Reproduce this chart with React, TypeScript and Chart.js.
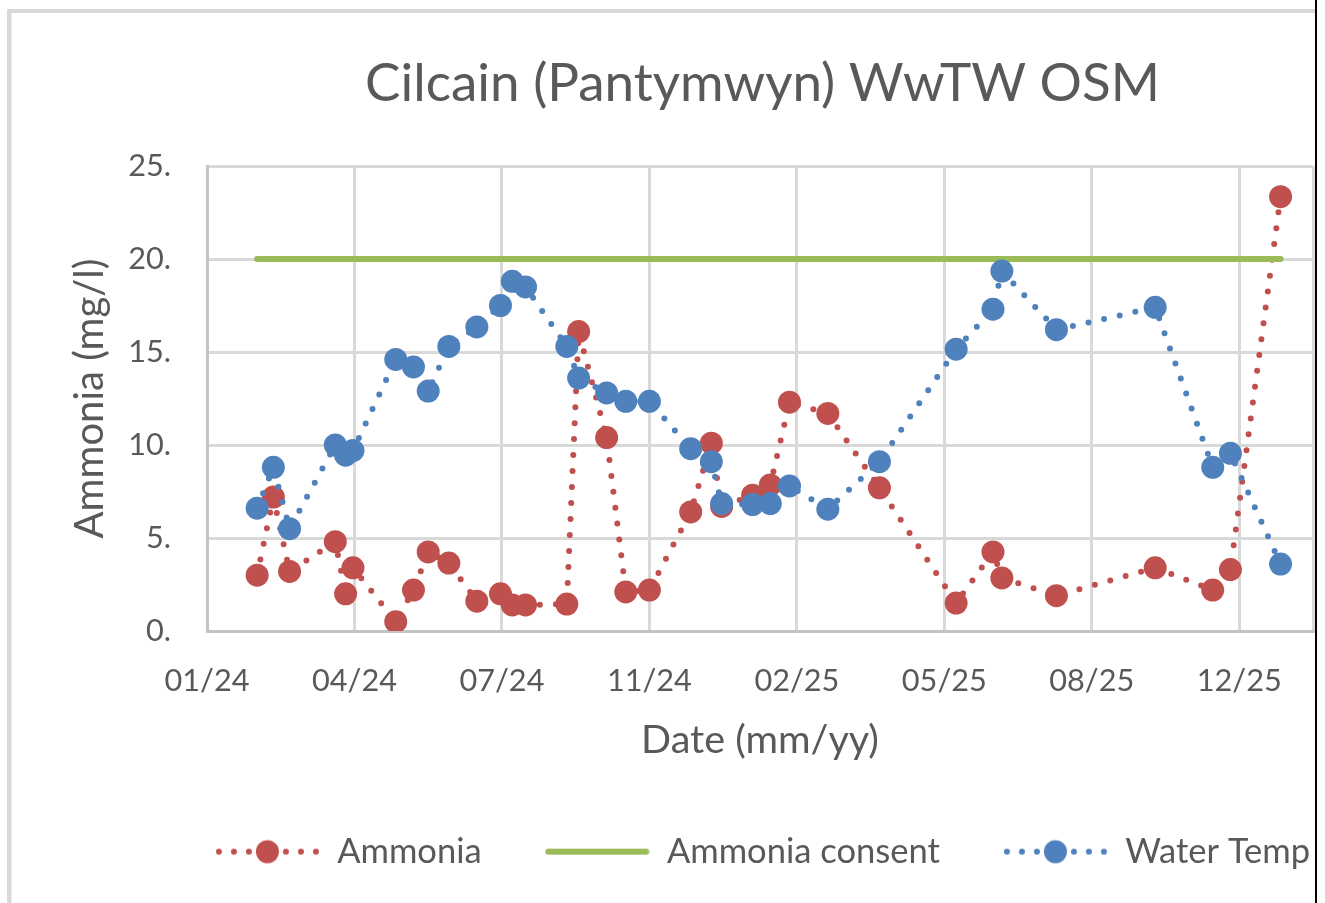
import React, { useEffect, useRef } from 'react';
import { Chart, registerables } from 'chart.js';

Chart.register(...registerables);

// ---------- data ----------
const TITLE = 'Cilcain (Pantymwyn) WwTW OSM';
const X_TITLE = 'Date (mm/yy)';
const Y_TITLE = 'Ammonia (mg/l)';
const SERIES_LABELS = ['Ammonia', 'Ammonia consent', 'Water Temp'];

const AXIS_START_DATE = '2024-01-07';
const X_TICK_LABELS = ['01/24', '04/24', '07/24', '11/24', '02/25', '05/25', '08/25', '12/25'];
const Y_TICK_LABELS = ['0.', '5.', '10.', '15.', '20.', '25.'];

const SAMPLE_DATES = [
  '2024-02-10', '2024-02-21', '2024-03-03', '2024-04-03', '2024-04-10', '2024-04-15',
  '2024-05-14', '2024-05-26', '2024-06-05', '2024-06-19', '2024-07-08', '2024-07-24',
  '2024-08-01', '2024-08-10', '2024-09-07', '2024-09-15', '2024-10-04', '2024-10-17',
  '2024-11-02', '2024-11-30', '2024-12-14', '2024-12-21', '2025-01-11', '2025-01-23',
  '2025-02-05', '2025-03-03', '2025-04-07', '2025-05-29', '2025-06-23', '2025-06-29',
  '2025-08-05', '2025-10-11', '2025-11-19', '2025-12-01', '2026-01-04',
];

const AMMONIA = [
  3.0, 7.2, 3.2, 4.8, 2.0, 3.4,
  0.5, 2.2, 4.25, 3.65, 1.6, 2.0,
  1.4, 1.4, 1.45, 16.1, 10.4, 2.1,
  2.2, 6.4, 10.1, 6.7, 7.3, 7.85,
  12.3, 11.7, 7.7, 1.5, 4.25, 2.85,
  1.9, 3.4, 2.2, 3.3, 23.35,
];

const AMMONIA_CONSENT = [
  20, 20, 20, 20, 20, 20,
  20, 20, 20, 20, 20, 20,
  20, 20, 20, 20, 20, 20,
  20, 20, 20, 20, 20, 20,
  20, 20, 20, 20, 20, 20,
  20, 20, 20, 20, 20,
];

const WATER_TEMP = [
  6.6, 8.8, 5.5, 10.0, 9.45, 9.7,
  14.6, 14.2, 12.9, 15.3, 16.35, 17.5,
  18.8, 18.5, 15.3, 13.6, 12.8, 12.35,
  12.35, 9.8, 9.1, 6.85, 6.8, 6.85,
  7.8, 6.55, 9.1, 15.15, 17.3, 19.35,
  16.2, 17.4, 8.8, 9.55, 3.6,
];

// ---------- layout / style ----------
const W = 1530;
const H = 903;
const BOX_RIGHT = 1515;
const PLOT = { left: 207, right: 1313, top: 166, bottom: 631 };
const X_MAX_DAYS = 750;
const TICK_STEP_DAYS = 100;
const FAMILY = 'Lato, "Open Sans", sans-serif';
const TEXT = '#595959';
const RED = '#C0504D';
const GREEN = '#9BBB59';
const BLUE = '#4F81BD';
const GRID = '#d9d9d9';
const AXIS = '#c4c4c4';
const LEGEND_PAD = 63;

const DAY = 86400000;
const dayOffset = (d: string) => (Date.parse(d) - Date.parse(AXIS_START_DATE)) / DAY;
const toPoints = (vals: number[]) => vals.map((v, i) => ({ x: dayOffset(SAMPLE_DATES[i]), y: v }));

function makeSymbol(color: string, kind: 'dots' | 'line') {
  const c = document.createElement('canvas');
  c.width = 105;
  c.height = 26;
  const g = c.getContext('2d')!;
  g.fillStyle = color;
  g.strokeStyle = color;
  if (kind === 'line') {
    g.lineWidth = 6;
    g.lineCap = 'round';
    g.beginPath();
    g.moveTo(3.5, 13);
    g.lineTo(101.5, 13);
    g.stroke();
  } else {
    for (const x of [4, 19, 34, 71, 86, 101]) {
      g.beginPath();
      g.arc(x, 13, 3, 0, Math.PI * 2);
      g.fill();
    }
    g.beginPath();
    g.arc(52.5, 13, 11.5, 0, Math.PI * 2);
    g.fill();
  }
  return c;
}

const framePlugin = {
  id: 'frame',
  beforeDraw(chart: any) {
    const { ctx, width, height } = chart;
    ctx.save();
    ctx.fillStyle = '#ffffff';
    ctx.fillRect(0, 0, width, height);
    ctx.fillStyle = '#d9d9d9';
    ctx.fillRect(7, 9, width - 7, 4);
    ctx.fillRect(7, 9, 4.5, height - 9);
    ctx.restore();
  },
};

export default function App() {
  const ref = useRef<HTMLCanvasElement>(null);

  useEffect(() => {
    const canvas = ref.current;
    if (!canvas) return;
    const mctx = document.createElement('canvas').getContext('2d')!;
    const fit = (text: string, target: number) => {
      mctx.font = `100px ${FAMILY}`;
      return (100 * target) / mctx.measureText(text).width;
    };
    const sTitle = fit(TITLE, 795);
    const sTick = fit(X_TICK_LABELS[0], 85);
    const sYTitle = fit(Y_TITLE, 280);
    const sXTitle = fit(X_TITLE, 238);
    const sLegend = (fit(SERIES_LABELS[0], 144) + fit(SERIES_LABELS[1], 274)) / 2;

    // vertical layout
    const lhT = 1.2 * sTitle;
    const titleMid = 100 - 0.3 * sTitle;
    const titlePadTop = titleMid - 10 - lhT / 2;
    const titlePadBottom = PLOT.top - 10 - titlePadTop - lhT;

    const legendMid = 862 - 0.3 * sLegend;
    const legendTop = legendMid - LEGEND_PAD - sLegend / 2;
    const legendBottom = legendTop + sLegend + LEGEND_PAD + 10;
    const layoutPadBottom = H - legendBottom;
    const xAxisH = legendTop - PLOT.bottom;

    const tickMid = 690 - 0.3 * sTick;
    const tickPad = tickMid - PLOT.bottom - 0.6 * sTick;
    const xTitleMid = 752 - 0.3 * sXTitle;
    const xTitlePadBottom = legendTop - xTitleMid - 0.6 * sXTitle;
    const yTitleMid = 102.5 - 0.3 * sYTitle;
    const yTitlePadTop = yTitleMid - 10 - 0.6 * sYTitle;

    const symbols = [makeSymbol(RED, 'dots'), makeSymbol(GREEN, 'line'), makeSymbol(BLUE, 'dots')];

    const dotted = (color: string) => ({
      borderColor: color,
      backgroundColor: color,
      borderWidth: 6,
      borderDash: [0, 16],
      borderCapStyle: 'round' as const,
      pointRadius: 11.5,
      pointHoverRadius: 11.5,
      pointBorderWidth: 0,
      pointBackgroundColor: color,
      pointBorderColor: color,
      tension: 0,
      fill: false,
    });

    const chart = new Chart(canvas, {
      type: 'line',
      data: {
        datasets: [
          { label: SERIES_LABELS[0], data: toPoints(AMMONIA), order: 3, ...dotted(RED) },
          {
            label: SERIES_LABELS[1],
            data: toPoints(AMMONIA_CONSENT),
            order: 2,
            borderColor: GREEN,
            backgroundColor: GREEN,
            borderWidth: 6,
            borderCapStyle: 'round',
            pointRadius: 0,
            pointHoverRadius: 0,
            fill: false,
          },
          { label: SERIES_LABELS[2], data: toPoints(WATER_TEMP), order: 1, ...dotted(BLUE) },
        ],
      },
      options: {
        responsive: false,
        animation: false,
        events: [],
        layout: { autoPadding: false, padding: { left: 10, right: W - BOX_RIGHT, top: 10, bottom: layoutPadBottom } },
        plugins: {
          tooltip: { enabled: false },
          title: {
            display: true,
            text: TITLE,
            color: TEXT,
            font: { family: FAMILY, size: sTitle, weight: 'normal', lineHeight: 1.2 },
            padding: { top: titlePadTop, bottom: titlePadBottom },
          },
          legend: {
            display: true,
            position: 'bottom',
            labels: {
              color: TEXT,
              font: { family: FAMILY, size: sLegend, weight: 'normal' },
              usePointStyle: true,
              pointStyleWidth: 105,
              padding: LEGEND_PAD,
              sort: (a: any, b: any) => a.datasetIndex - b.datasetIndex,
              generateLabels: (ch: any) => {
                const items = (Chart.defaults.plugins.legend.labels as any).generateLabels(ch);
                return items.map((it: any) => ({ ...it, pointStyle: symbols[it.datasetIndex], fontColor: TEXT }));
              },
            },
          },
        },
        scales: {
          x: {
            type: 'linear',
            min: 0,
            max: X_MAX_DAYS,
            afterBuildTicks: (s: any) => {
              s.ticks = X_TICK_LABELS.map((_, i) => ({ value: i * TICK_STEP_DAYS })).concat([{ value: X_MAX_DAYS }]);
            },
            afterFit: (s: any) => {
              s.height = xAxisH;
            },
            grid: { color: GRID, lineWidth: 3, drawTicks: false },
            border: { display: true, color: AXIS, width: 3 },
            ticks: {
              autoSkip: false,
              maxRotation: 0,
              minRotation: 0,
              padding: tickPad,
              color: TEXT,
              font: { family: FAMILY, size: sTick, lineHeight: 1.2 },
              callback: (v: any) => {
                const n = Number(v);
                return n % TICK_STEP_DAYS === 0 ? X_TICK_LABELS[n / TICK_STEP_DAYS] ?? '' : '';
              },
            },
            title: {
              display: true,
              text: X_TITLE,
              color: TEXT,
              font: { family: FAMILY, size: sXTitle, lineHeight: 1.2 },
              padding: { top: 0, bottom: xTitlePadBottom },
            },
          },
          y: {
            type: 'linear',
            position: 'left',
            min: 0,
            max: 25,
            afterFit: (s: any) => {
              s.width = PLOT.left - 10;
            },
            grid: { color: GRID, lineWidth: 3, drawTicks: false },
            border: { display: true, color: AXIS, width: 3 },
            ticks: {
              stepSize: 5,
              padding: 36,
              color: TEXT,
              font: { family: FAMILY, size: sTick, lineHeight: 1.2 },
              callback: (v: any) => Y_TICK_LABELS[Math.round(Number(v) / 5)] ?? '',
            },
            title: {
              display: true,
              text: Y_TITLE,
              color: TEXT,
              font: { family: FAMILY, size: sYTitle, lineHeight: 1.2 },
              padding: { top: yTitlePadTop, bottom: 0 },
            },
          },
          yR: {
            type: 'linear',
            position: 'right',
            min: 0,
            max: 25,
            display: true,
            afterFit: (s: any) => {
              s.width = BOX_RIGHT - PLOT.right;
            },
            grid: { display: false, drawTicks: false },
            border: { display: false },
            ticks: { display: false },
          },
        },
      },
      plugins: [framePlugin],
    } as any);

    return () => chart.destroy();
  }, []);

  return (
    <div
      style={{
        position: 'fixed',
        left: 0,
        top: 0,
        width: 1325,
        height: 903,
        overflow: 'hidden',
        background: '#ffffff',
      }}
    >
      <canvas ref={ref} width={W} height={H} style={{ position: 'absolute', left: 0, top: 0, width: W, height: H }} />
      <div
        style={{
          position: 'absolute',
          left: 1315,
          top: 0,
          width: 10,
          height: 903,
          background: '#ffffff',
          borderLeft: '2px solid #000000',
          boxSizing: 'border-box',
        }}
      />
    </div>
  );
}
